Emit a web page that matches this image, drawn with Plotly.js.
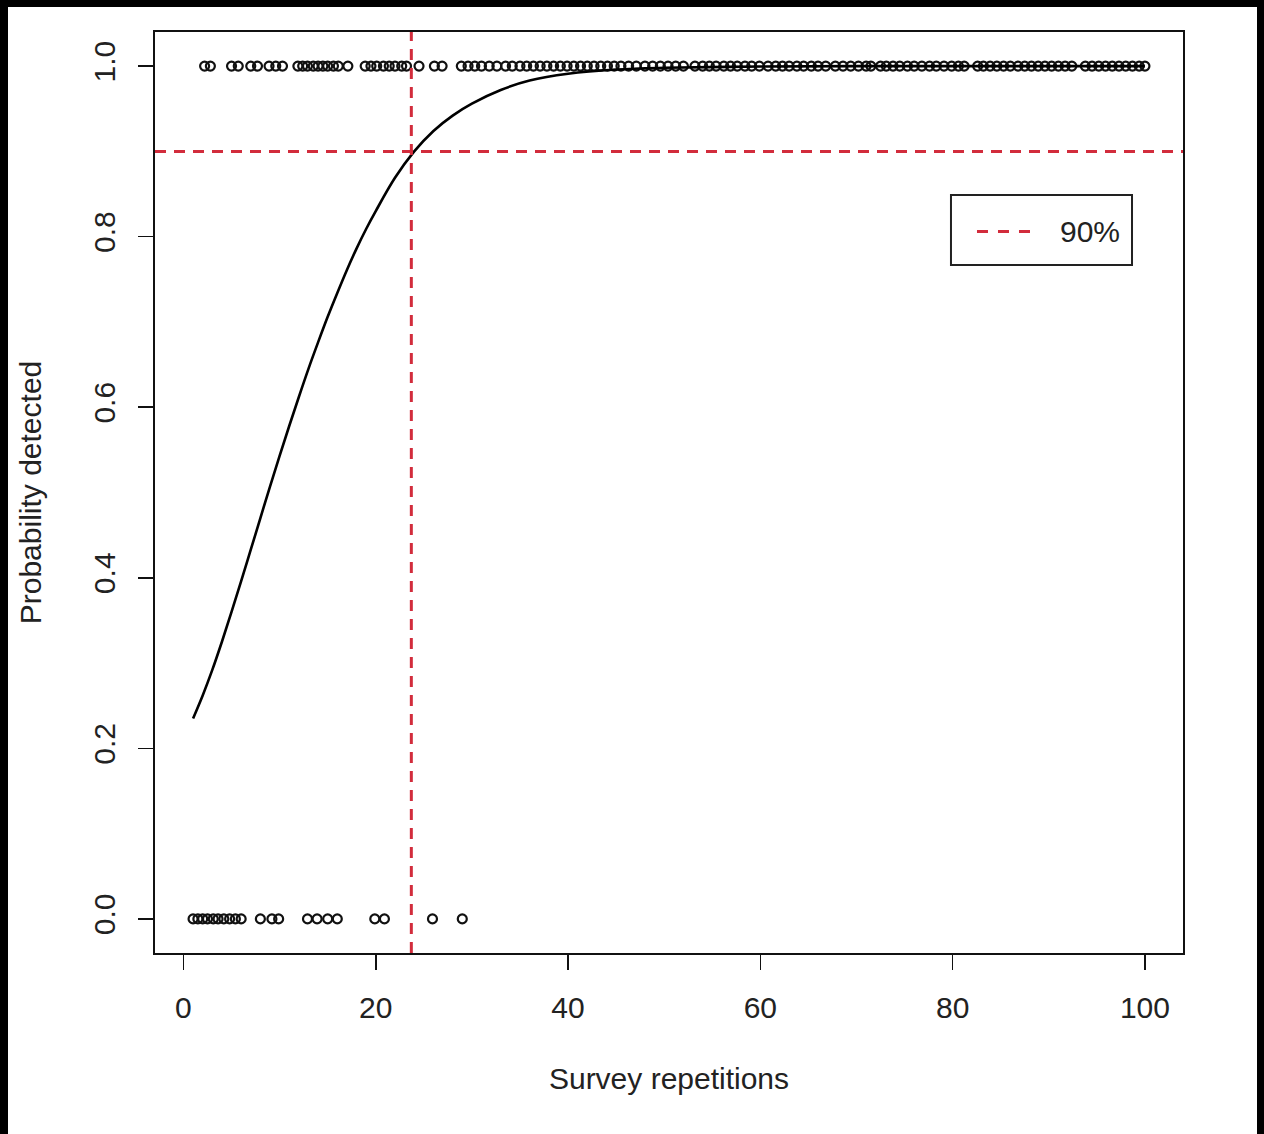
<!DOCTYPE html>
<html>
<head>
<meta charset="utf-8">
<script src="https://cdn.plot.ly/plotly-3.0.1.min.js"></script>
<style>
  html, body { margin: 0; padding: 0; background: #fff; }
  #frame { position: absolute; left: 0; top: 0; width: 1264px; height: 1134px; background: #000; }
  #plot { position: absolute; left: 8px; top: 7px; width: 1249px; height: 1127px; background: #fff; }
</style>
</head>
<body>
<div id="frame"><div id="plot"></div></div>
<script>
// Survey outcomes: detected (1) and not detected (0), by survey repetitions
const detectedX = [2.2, 2.8, 5.0, 5.7, 7.0, 7.7, 8.9, 9.6, 10.3,
  11.9, 12.4, 12.9, 13.5, 14.0, 14.5, 15.0, 15.6, 16.1, 17.1,
  18.9, 19.5, 20.1, 20.8, 21.4, 22.0, 22.7, 23.2,
  24.5, 26.1, 26.9,
  28.9, 29.6, 30.3, 31.0, 31.8, 32.6,
  33.5, 34.2, 35.0, 35.7, 36.4, 37.1, 37.8, 38.5, 39.2, 39.9, 40.6, 41.3, 42.0, 42.7,
  43.4, 44.1, 44.8, 45.5, 46.3, 47.1, 48.0, 48.8, 49.6, 50.4, 51.2, 52.0, 53.2, 54.0,
  54.7, 55.4, 56.2, 56.9, 57.6, 58.4, 59.1, 59.9, 60.8, 61.6, 62.3, 63.0, 63.8, 64.5,
  65.3, 66.0, 66.8, 67.8, 68.6, 69.4, 70.2, 71.0, 71.5,
  72.5, 73.1, 73.8, 74.5, 75.3, 76.0, 76.8, 77.6, 78.3, 79.1, 79.9, 80.6, 81.2,
  82.6, 83.2, 83.9, 84.6, 85.3, 86.0, 86.8, 87.5, 88.2, 88.9, 89.6, 90.3, 91.0, 91.7, 92.4,
  93.8, 94.5, 95.2, 95.9, 96.6, 97.3, 98.0, 98.7, 99.4, 100.0];
const detectedY = detectedX.map(() => 1);

const missedX = [1.0, 1.5, 2.0, 2.5, 3.1, 3.6, 4.2, 4.8, 5.4, 6.0,
  8.0, 9.2, 9.9, 12.9, 13.9, 15.0, 16.0, 19.9, 20.9, 25.9, 29.0];
const missedY = missedX.map(() => 0);

// Fitted detection probability curve
const curveX = [1, 2, 3, 4, 5, 6, 7, 8, 9, 10, 11, 12, 13, 14, 15, 16, 17, 18, 19, 20,
  22, 24, 26, 28, 30, 33, 36, 40, 45, 50, 60, 70, 80, 90, 100];
const curveY = [0.235, 0.262, 0.292, 0.325, 0.360, 0.396, 0.433, 0.470, 0.507, 0.543,
  0.578, 0.612, 0.645, 0.676, 0.706, 0.734, 0.761, 0.786, 0.809, 0.830,
  0.869, 0.900, 0.924, 0.942, 0.956, 0.972, 0.983, 0.991, 0.996, 0.998,
  0.9995, 1.0, 1.0, 1.0, 1.0];

// 90% threshold and the repetitions needed to reach it
const thresholdProb = 0.9;
const thresholdReps = 23.7;
const thresholdLabel = '90%';

const xTicks = [0, 20, 40, 60, 80, 100];
const yTicks = [0.0, 0.2, 0.4, 0.6, 0.8, 1.0];

const FONT = 'Liberation Sans, Arial, Helvetica, sans-serif';
const RED = '#d22c3c';
const FS = 30;

const traces = [
  { x: detectedX, y: detectedY, type: 'scatter', mode: 'markers', showlegend: false,
    marker: { symbol: 'circle-open', size: 9, color: '#111', line: { width: 2.2, color: '#111' } } },
  { x: missedX, y: missedY, type: 'scatter', mode: 'markers', showlegend: false,
    marker: { symbol: 'circle-open', size: 9, color: '#111', line: { width: 2.2, color: '#111' } } },
  { x: curveX, y: curveY, type: 'scatter', mode: 'lines', showlegend: false,
    line: { color: '#000', width: 2.6, shape: 'spline', smoothing: 1 } }
];

// Legend box (drawn like the R legend)
const legBox = { x0: 0.7743, x1: 0.9504, y0: 0.7470, y1: 0.8230 };
const legLine = { x0: 0.7996, x1: 0.8512, y: 0.7835 };
const legTextX = 0.8784;

const layout = {
  width: 1249, height: 1127,
  margin: { l: 147, r: 74, t: 25, b: 181 },
  paper_bgcolor: '#fff', plot_bgcolor: '#fff',
  font: { family: FONT, size: FS, color: '#222' },
  showlegend: false,
  xaxis: {
    range: [-2.96, 103.96], tickvals: xTicks, ticktext: xTicks.map(String),
    showgrid: false, zeroline: false, showline: true, mirror: true,
    linecolor: '#111', linewidth: 2, ticks: 'outside', ticklen: 15, tickwidth: 1.6, tickcolor: '#111',
    ticklabelstandoff: 12,
    tickfont: { family: FONT, size: FS, color: '#222' },
    title: { text: 'Survey repetitions', font: { family: FONT, size: FS, color: '#222' }, standoff: 45 }
  },
  yaxis: {
    range: [-0.04, 1.04], tickvals: yTicks, ticktext: yTicks.map(v => v.toFixed(1)),
    tickangle: -90,
    showgrid: false, zeroline: false, showline: true, mirror: true,
    linecolor: '#111', linewidth: 2, ticks: 'outside', ticklen: 15, tickwidth: 1.6, tickcolor: '#111',
    ticklabelstandoff: 11,
    tickfont: { family: FONT, size: FS, color: '#222' },
    title: { text: 'Probability detected', font: { family: FONT, size: FS, color: '#222' }, standoff: 38 }
  },
  shapes: [
    { type: 'line', xref: 'x domain', yref: 'y', x0: 0, x1: 1, y0: thresholdProb, y1: thresholdProb,
      line: { color: RED, width: 3, dash: '11px,8px' } },
    { type: 'line', xref: 'x', yref: 'y domain', x0: thresholdReps, x1: thresholdReps, y0: 0, y1: 1,
      line: { color: RED, width: 3, dash: '11px,8px' } },
    { type: 'rect', xref: 'paper', yref: 'paper', x0: legBox.x0, x1: legBox.x1, y0: legBox.y0, y1: legBox.y1,
      line: { color: '#222', width: 2 }, fillcolor: '#fff' },
    { type: 'line', xref: 'paper', yref: 'paper', x0: legLine.x0, x1: legLine.x1, y0: legLine.y, y1: legLine.y,
      line: { color: RED, width: 3, dash: '11px,10px' } }
  ],
  annotations: [
    { xref: 'paper', yref: 'paper', x: legTextX, y: legLine.y, xanchor: 'left', yanchor: 'middle',
      text: thresholdLabel, showarrow: false, font: { family: FONT, size: FS, color: '#222' } }
  ]
};

Plotly.newPlot('plot', traces, layout, { displayModeBar: false, staticPlot: true });
</script>
</body>
</html>
